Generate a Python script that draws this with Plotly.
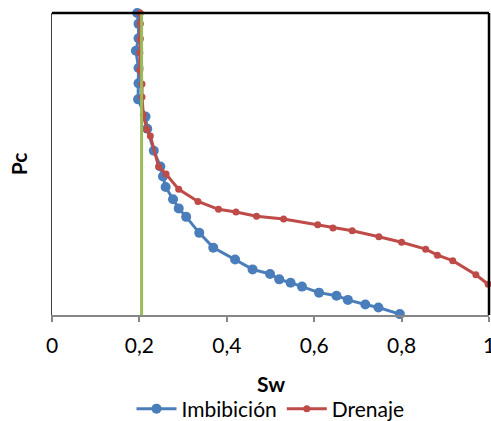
import plotly.graph_objects as go

# Imbibición (blue)
sw_imb = [0.195, 0.198, 0.198, 0.192, 0.198, 0.198, 0.197, 0.214, 0.218, 0.233,
          0.248, 0.254, 0.260, 0.277, 0.290, 0.307, 0.337, 0.369, 0.419, 0.459,
          0.499, 0.520, 0.546, 0.572, 0.611, 0.651, 0.677, 0.717, 0.747, 0.796]
pc_imb = [100.0, 96.4, 91.6, 87.5, 81.8, 76.7, 71.4, 65.7, 61.7, 54.4,
          49.2, 45.9, 42.4, 38.3, 35.3, 32.5, 27.2, 22.3, 18.4, 15.1,
          13.6, 11.8, 10.7, 9.4, 7.4, 6.4, 5.0, 3.5, 2.5, 0.3]

# Drenaje (red)
sw_dre = [0.202, 0.202, 0.202, 0.201, 0.201, 0.206, 0.206, 0.209, 0.217, 0.225,
          0.244, 0.261, 0.290, 0.334, 0.381, 0.421, 0.468, 0.530, 0.608, 0.643,
          0.687, 0.748, 0.800, 0.855, 0.882, 0.917, 0.970, 0.998]
pc_dre = [100.0, 96.4, 91.4, 86.8, 81.1, 76.5, 72.2, 66.2, 61.5, 59.3,
          49.1, 46.7, 41.6, 37.6, 35.0, 34.1, 32.7, 31.8, 29.9, 28.8,
          27.9, 25.9, 24.1, 21.8, 19.8, 18.0, 13.3, 10.2]

# Swi vertical line (green)
sw_line = [0.205, 0.205]
pc_line = [0, 100]

x_tickvals = [0, 0.2, 0.4, 0.6, 0.8, 1]
x_ticktext = ["0", "0,2", "0,4", "0,6", "0,8", "1"]

FONT = "Lato"
BLUE = "#4A7EBB"
RED = "#BE4B48"
GREEN = "#9BBB59"

W, H = 491, 421
M_T, M_B = 13, 106
PLOT_H = H - M_T - M_B

fig = go.Figure()
fig.add_trace(go.Scatter(
    x=sw_imb, y=pc_imb, mode="lines+markers", name="Imbibición",
    line=dict(color=BLUE, width=3), marker=dict(color=BLUE, size=10),
    cliponaxis=False))
fig.add_trace(go.Scatter(
    x=sw_dre, y=pc_dre, mode="lines+markers", name="Drenaje",
    line=dict(color=RED, width=3), marker=dict(color=RED, size=7),
    cliponaxis=False))
fig.add_trace(go.Scatter(
    x=sw_line, y=pc_line, mode="lines", showlegend=False,
    line=dict(color=GREEN, width=3), cliponaxis=False))

fig.update_layout(
    width=W, height=H,
    margin=dict(l=52, r=2, t=M_T, b=M_B),
    paper_bgcolor="white", plot_bgcolor="white",
    font=dict(family=FONT, size=21, color="black"),
    showlegend=True,
    legend=dict(orientation="h", x=0.5, xanchor="center", xref="paper",
                y=12 / H, yanchor="middle", yref="container",
                font=dict(size=21), itemwidth=40, tracegroupgap=0,
                bgcolor="rgba(0,0,0,0)"),
    xaxis=dict(range=[0, 1], tickvals=x_tickvals, ticktext=x_ticktext,
               showgrid=False, zeroline=False, showline=True,
               linecolor="#868686", linewidth=1.5,
               ticks="outside", ticklen=5, tickcolor="#868686", tickwidth=1.5,
               ticklabelstandoff=6, ticklabeloverflow="allow",
               automargin=False),
    yaxis=dict(range=[0, 100], showticklabels=False, ticks="",
               showgrid=False, zeroline=False, showline=True,
               linecolor="#404040", linewidth=1,
               title=dict(text="<b>Pc</b>", font=dict(size=21), standoff=17),
               automargin=False),
    annotations=[
        dict(text="<b>Sw</b>", xref="paper", yref="paper", x=0.5,
             y=-68 / PLOT_H, xanchor="center", yanchor="middle",
             showarrow=False, font=dict(size=21)),
    ],
    shapes=[
        dict(type="line", xref="paper", yref="paper", x0=0, x1=1, y0=1, y1=1,
             line=dict(color="black", width=2.5)),
        dict(type="line", xref="paper", yref="paper", x0=1, x1=1, y0=0, y1=1,
             line=dict(color="black", width=2.5)),
    ],
)

fig.write_html(
    "out.html",
    config={"displayModeBar": False},
    post_script=(
        "document.body.style.margin='0';"
        "document.body.style.overflow='hidden';"
        "document.documentElement.style.overflow='hidden';"
    ),
)
